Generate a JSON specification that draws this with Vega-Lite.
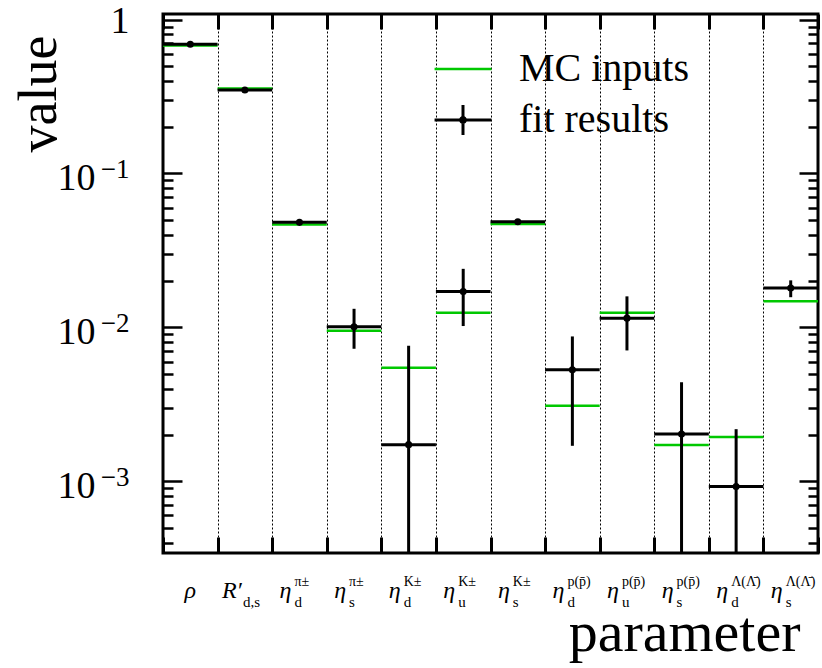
{
  "$schema": "https://vega.github.io/schema/vega-lite/v6.json",
  "width": 655,
  "height": 539,
  "autosize": {"type": "none"},
  "padding": {"left": 163, "top": 14, "right": 4, "bottom": 115},
  "background": "white",
  "config": {
    "view": {"stroke": "black", "strokeWidth": 3},
    "font": "Liberation Serif",
    "axis": {
      "labelFont": "Liberation Serif",
      "titleFont": "Liberation Serif",
      "labelColor": "black",
      "titleColor": "black",
      "titleFontWeight": "normal",
      "tickColor": "black",
      "domain": false,
      "grid": false,
      "labelOverlap": false,
      "labelAngle": 0
    },
    "legend": {
      "labelFont": "Liberation Serif",
      "labelFontSize": 40,
      "labelColor": "black",
      "labelLimit": 0,
      "padding": 0,
      "symbolSize": 1296,
      "symbolStrokeWidth": 0,
      "symbolOpacity": 1,
      "labelOffset": 36
    }
  },
  "data": {
    "values": [
      {"param": "rho", "base": "ρ", "sub": "", "sup": "", "mc": 0.678, "fit": 0.691, "lo": 0.684, "hi": 0.698},
      {"param": "R_ds", "base": "R′", "sub": "d,s", "sup": "", "mc": 0.356, "fit": 0.348, "lo": 0.344, "hi": 0.352},
      {"param": "eta_d_pi", "base": "η", "sub": "d", "sup": "π±", "mc": 0.0465, "fit": 0.0481, "lo": 0.0474, "hi": 0.0488},
      {"param": "eta_s_pi", "base": "η", "sub": "s", "sup": "π±", "mc": 0.0095, "fit": 0.0101, "lo": 0.00726, "hi": 0.0132},
      {"param": "eta_d_K", "base": "η", "sub": "d", "sup": "K±", "mc": 0.00546, "fit": 0.00173, "lo": 0.0001, "hi": 0.00759},
      {"param": "eta_u_K", "base": "η", "sub": "u", "sup": "K±", "mc": 0.01245, "fit": 0.0171, "lo": 0.0102, "hi": 0.024},
      {"param": "eta_s_K", "base": "η", "sub": "s", "sup": "K±", "mc": 0.047, "fit": 0.0486, "lo": 0.0476, "hi": 0.0496},
      {"param": "eta_d_p", "base": "η", "sub": "d", "sup": "p(p̄)", "mc": 0.0031, "fit": 0.0053, "lo": 0.0017, "hi": 0.00873},
      {"param": "eta_u_p", "base": "η", "sub": "u", "sup": "p(p̄)", "mc": 0.01245, "fit": 0.01148, "lo": 0.00708, "hi": 0.0159},
      {"param": "eta_s_p", "base": "η", "sub": "s", "sup": "p(p̄)", "mc": 0.00172, "fit": 0.00203, "lo": 0.0001, "hi": 0.0044},
      {"param": "eta_d_L", "base": "η", "sub": "d", "sup": "Λ(Λ̄)", "mc": 0.00194, "fit": 0.000924, "lo": 0.0001, "hi": 0.00218},
      {"param": "eta_s_L", "base": "η", "sub": "s", "sup": "Λ(Λ̄)", "mc": 0.0148, "fit": 0.018, "lo": 0.0157, "hi": 0.0202}
    ]
  },
  "layer": [
    {
      "mark": {"type": "tick", "size": 54.58, "thickness": 2.5, "opacity": 1},
      "encoding": {
        "x": {
          "field": "param", "type": "nominal", "sort": null,
          "scale": {"type": "band", "paddingInner": 0, "paddingOuter": 0},
          "axis": {
            "orient": "top", "labels": false, "ticks": true, "tickSize": -15, "tickWidth": 3,
            "tickBand": "extent", "grid": true, "gridColor": "black", "gridDash": [2, 2],
            "gridWidth": 1, "title": null
          }
        },
        "y": {
          "field": "mc", "type": "quantitative",
          "scale": {"type": "log", "domain": [0.000342, 1.086], "nice": false},
          "axis": {
            "orient": "left", "labels": false, "title": null,
            "values": [0.0004,0.0005,0.0006,0.0007,0.0008,0.0009,0.001,0.002,0.003,0.004,0.005,0.006,0.007,0.008,0.009,0.01,0.02,0.03,0.04,0.05,0.06,0.07,0.08,0.09,0.1,0.2,0.3,0.4,0.5,0.6,0.7,0.8,0.9,1],
            "tickSize": {"condition": {"test": "indexof([0.001,0.01,0.1,1], datum.value) >= 0", "value": -19}, "value": -10},
            "tickWidth": 2.5
          }
        },
        "color": {
          "datum": "MC inputs", "type": "nominal",
          "scale": {"domain": ["MC inputs"], "range": ["#00c800"]},
          "legend": {
            "title": null, "orient": "none", "legendX": 280, "legendY": 35,
            "symbolType": "M-1.58,-0.07H1.58V0.07H-1.58Z"
          }
        }
      }
    },
    {
      "mark": {"type": "tick", "size": 54.58, "thickness": 3, "color": "black"},
      "encoding": {
        "x": {
          "field": "param", "type": "nominal", "sort": null,
          "scale": {"type": "band", "paddingInner": 0, "paddingOuter": 0},
          "axis": {
            "orient": "bottom", "labels": false, "ticks": true, "tickSize": -16, "tickWidth": 3,
            "tickBand": "extent",
            "title": "parameter", "titleFontSize": 58, "titleX": 637, "titleY": 97,
            "titleAlign": "right", "titleBaseline": "alphabetic", "titleAngle": 0
          }
        },
        "y": {
          "field": "fit", "type": "quantitative",
          "scale": {"type": "log", "domain": [0.000342, 1.086], "nice": false},
          "axis": {
            "orient": "right", "labels": false, "title": null,
            "values": [0.0004,0.0005,0.0006,0.0007,0.0008,0.0009,0.001,0.002,0.003,0.004,0.005,0.006,0.007,0.008,0.009,0.01,0.02,0.03,0.04,0.05,0.06,0.07,0.08,0.09,0.1,0.2,0.3,0.4,0.5,0.6,0.7,0.8,0.9,1],
            "tickSize": {"condition": {"test": "indexof([0.001,0.01,0.1,1], datum.value) >= 0", "value": -19}, "value": -10},
            "tickWidth": 2.5
          }
        },
        "opacity": {
          "datum": "fit results", "type": "ordinal",
          "scale": {"domain": ["fit results"], "range": [1]},
          "legend": {
            "title": null, "orient": "none", "legendX": 280, "legendY": 86,
            "symbolFillColor": "black",
            "symbolType": "M-1.58,-0.083H1.58V0.083H-1.58ZM-0.083,-0.83H0.083V0.83H-0.083ZM0.22,0A0.22,0.22,0,1,1,-0.22,0A0.22,0.22,0,1,1,0.22,0Z"
          }
        }
      }
    },
    {
      "mark": {"type": "rule", "strokeWidth": 3, "color": "black", "clip": true},
      "encoding": {
        "x": {"field": "param", "type": "nominal", "sort": null, "axis": null},
        "y": {
          "field": "lo", "type": "quantitative",
          "scale": {"type": "log", "domain": [0.000342, 1.086], "nice": false},
          "axis": {
            "orient": "left", "ticks": false, "values": [0.001, 0.01, 0.1],
            "labelExpr": "'10'", "labelFontSize": 38, "labelAlign": "right",
            "labelBaseline": "alphabetic", "labelPadding": 68, "labelOffset": 16,
            "title": "value", "titleFontSize": 54, "titleAngle": 270, "titleX": -108, "titleY": 21,
            "titleAlign": "right", "titleBaseline": "alphabetic"
          }
        },
        "y2": {"field": "hi"}
      }
    },
    {
      "mark": {"type": "circle", "size": 50, "color": "black", "opacity": 1},
      "encoding": {
        "x": {"field": "param", "type": "nominal", "sort": null, "axis": null},
        "y": {
          "field": "fit", "type": "quantitative",
          "scale": {"type": "log", "domain": [0.000342, 1.086], "nice": false},
          "axis": {
            "orient": "left", "ticks": false, "values": [0.001, 0.01, 0.1, 1], "title": null,
            "labelExpr": "datum.value >= 0.5 ? '1' : '−' + round(-log(datum.value) / LN10)",
            "labelFontSize": {"condition": {"test": "datum.value >= 0.5", "value": 38}, "value": 27},
            "labelAlign": "right", "labelBaseline": "alphabetic", "labelPadding": 34,
            "labelOffset": {"condition": {"test": "datum.value >= 0.5", "value": 13}, "value": 4}
          }
        }
      }
    },
    {
      "transform": [{"filter": "datum.base === 'ρ'"}],
      "mark": {"type": "text", "align": "center", "baseline": "alphabetic", "dy": 45, "fontSize": 24, "fontStyle": "italic", "font": "Liberation Serif", "color": "black"},
      "encoding": {
        "x": {"field": "param", "type": "nominal", "sort": null, "axis": null},
        "y": {"datum": 0.000342, "type": "quantitative", "axis": null},
        "text": {"field": "base"}
      }
    },
    {
      "transform": [{"filter": "datum.base === 'R′'"}],
      "mark": {"type": "text", "align": "right", "baseline": "alphabetic", "dx": -3, "dy": 45, "fontSize": 24, "fontStyle": "italic", "font": "Liberation Serif", "color": "black"},
      "encoding": {
        "x": {"field": "param", "type": "nominal", "sort": null, "axis": null},
        "y": {"datum": 0.000342, "type": "quantitative", "axis": null},
        "text": {"field": "base"}
      }
    },
    {
      "transform": [{"filter": "datum.base === 'R′'"}],
      "mark": {"type": "text", "align": "left", "baseline": "alphabetic", "dx": -2, "dy": 54, "fontSize": 15, "font": "Liberation Serif", "color": "black"},
      "encoding": {
        "x": {"field": "param", "type": "nominal", "sort": null, "axis": null},
        "y": {"datum": 0.000342, "type": "quantitative", "axis": null},
        "text": {"field": "sub"}
      }
    },
    {
      "transform": [{"filter": "datum.base === 'η'"}],
      "mark": {"type": "text", "align": "right", "baseline": "alphabetic", "dx": -8, "dy": 45, "fontSize": 24, "fontStyle": "italic", "font": "Liberation Serif", "color": "black"},
      "encoding": {
        "x": {"field": "param", "type": "nominal", "sort": null, "axis": null},
        "y": {"datum": 0.000342, "type": "quantitative", "axis": null},
        "text": {"field": "base"}
      }
    },
    {
      "transform": [{"filter": "datum.base === 'η'"}],
      "mark": {"type": "text", "align": "left", "baseline": "alphabetic", "dx": -5, "dy": 54, "fontSize": 15, "font": "Liberation Serif", "color": "black"},
      "encoding": {
        "x": {"field": "param", "type": "nominal", "sort": null, "axis": null},
        "y": {"datum": 0.000342, "type": "quantitative", "axis": null},
        "text": {"field": "sub"}
      }
    },
    {
      "transform": [{"filter": "datum.base === 'η'"}],
      "mark": {"type": "text", "align": "left", "baseline": "alphabetic", "dx": -5, "dy": 33, "fontSize": 14, "font": "Liberation Serif", "color": "black"},
      "encoding": {
        "x": {"field": "param", "type": "nominal", "sort": null, "axis": null},
        "y": {"datum": 0.000342, "type": "quantitative", "axis": null},
        "text": {"field": "sup"}
      }
    }
  ],
  "resolve": {"axis": {"x": "independent", "y": "independent"}}
}
